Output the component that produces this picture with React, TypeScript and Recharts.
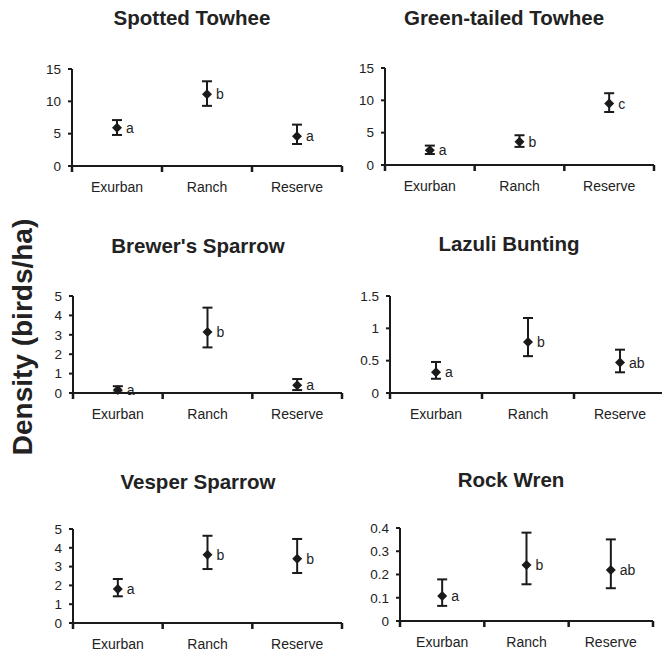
import React from 'react';
import { LineChart, Line, XAxis, YAxis, ErrorBar, LabelList } from 'recharts';

const sites = ['Exurban', 'Ranch', 'Reserve'];

const spottedMean = [5.9, 11.1, 4.6];
const spottedLow = [4.8, 9.3, 3.4];
const spottedHigh = [7.1, 13.1, 6.4];
const spottedLetters = ['a', 'b', 'a'];

const greenMean = [2.3, 3.6, 9.5];
const greenLow = [1.7, 2.8, 8.2];
const greenHigh = [3.0, 4.6, 11.1];
const greenLetters = ['a', 'b', 'c'];

const brewerMean = [0.15, 3.15, 0.4];
const brewerLow = [0.02, 2.35, 0.15];
const brewerHigh = [0.35, 4.4, 0.72];
const brewerLetters = ['a', 'b', 'a'];

const lazuliMean = [0.32, 0.79, 0.47];
const lazuliLow = [0.22, 0.57, 0.32];
const lazuliHigh = [0.48, 1.16, 0.67];
const lazuliLetters = ['a', 'b', 'ab'];

const vesperMean = [1.81, 3.63, 3.42];
const vesperLow = [1.42, 2.87, 2.66];
const vesperHigh = [2.34, 4.64, 4.47];
const vesperLetters = ['a', 'b', 'b'];

const wrenMean = [0.107, 0.241, 0.219];
const wrenLow = [0.065, 0.158, 0.141];
const wrenHigh = [0.179, 0.38, 0.351];
const wrenLetters = ['a', 'b', 'ab'];

const ticks15 = [0, 5, 10, 15];
const ticks5 = [0, 1, 2, 3, 4, 5];
const ticks15small = [0, 0.5, 1, 1.5];
const ticks04 = [0, 0.1, 0.2, 0.3, 0.4];

const build = (mean: number[], low: number[], high: number[], letters: string[]) =>
  sites.map((site, i) => ({
    x: i + 0.5,
    site,
    mean: mean[i],
    err: [mean[i] - low[i], high[i] - mean[i]],
    letter: letters[i],
  }));

const INK = '#1a1a1a';
const FONT = '"Liberation Sans", Arial, Helvetica, sans-serif';

// integer ticks are the category boundaries (marks only), half ticks carry the site names
const SiteTick = (props: any) => {
  const { x, y, payload } = props;
  const v = Number(payload.value);
  if (Math.abs(v - Math.round(v)) < 1e-6) {
    return (
      <g>
        <rect x={x - 1.25} y={y} width={2.5} height={6} fill={INK} />
      </g>
    );
  }
  return (
    <g>
      <text x={x} y={y + 26} textAnchor="middle" fontSize={14} fill="#222" fontFamily={FONT}>
        {sites[Math.floor(v)]}
      </text>
    </g>
  );
};

const Diamond = (props: any) => {
  const { cx, cy } = props;
  if (cx == null || cy == null) return null;
  const r = 5;
  return <path d={`M${cx},${cy - r}L${cx + r},${cy}L${cx},${cy + r}L${cx - r},${cy}Z`} fill={INK} />;
};

const Letter = (props: any) => {
  const { x, y, value } = props;
  return (
    <text x={x + 9} y={y + 5} fontSize={14} fill="#222" fontFamily={FONT}>
      {value}
    </text>
  );
};

const ML = 50, MT = 12, MR = 4, MB = 34;

function Panel({ title, data, yTicks, box, titleX, titleY }: any) {
  const yMax = yTicks[yTicks.length - 1];
  return (
    <>
      <div
        style={{
          position: 'absolute', left: titleX, top: titleY, transform: 'translate(-50%, -50%)',
          fontSize: 20.5, fontWeight: 'bold', color: '#222', whiteSpace: 'nowrap',
        }}
      >
        {title}
      </div>
      <div style={{ position: 'absolute', left: box.l - ML, top: box.t - MT }}>
        <LineChart
          width={box.r - box.l + ML + MR}
          height={box.b - box.t + MT + MB}
          data={data}
          margin={{ top: MT, right: MR, left: 0, bottom: 0 }}
        >
          <XAxis
            type="number"
            dataKey="x"
            domain={[0, 3]}
            ticks={[0, 0.5, 1, 1.5, 2, 2.5, 3]}
            interval={0}
            height={MB}
            tickLine={false}
            tickSize={0}
            tickMargin={0}
            tick={<SiteTick />}
            axisLine={{ stroke: INK, strokeWidth: 2 }}
          />
          <YAxis
            type="number"
            domain={[0, yMax]}
            ticks={yTicks}
            interval={0}
            width={ML}
            tickSize={4}
            tickMargin={7}
            axisLine={{ stroke: INK, strokeWidth: 2 }}
            tickLine={{ stroke: INK, strokeWidth: 2 }}
            tick={{ fill: '#222', fontSize: 13.5, fontFamily: FONT }}
          />
          <Line
            dataKey="mean"
            stroke="none"
            isAnimationActive={false}
            dot={<Diamond />}
            activeDot={false}
          >
            <ErrorBar dataKey="err" direction="y" width={5} stroke={INK} strokeWidth={2} />
            <LabelList dataKey="letter" content={<Letter />} />
          </Line>
        </LineChart>
      </div>
    </>
  );
}

export default function App() {
  return (
    <div
      style={{
        position: 'absolute', left: 0, top: 0, width: 662, height: 652, overflow: 'hidden',
        background: '#fff', fontFamily: FONT,
      }}
    >
      <div
        style={{
          position: 'absolute', left: 23, top: 337, transform: 'translate(-50%, -50%) rotate(-90deg)',
          fontSize: 28, fontWeight: 'bold', color: '#222', whiteSpace: 'nowrap',
        }}
      >
        Density (birds/ha)
      </div>
      <Panel
        title="Spotted Towhee"
        data={build(spottedMean, spottedLow, spottedHigh, spottedLetters)}
        yTicks={ticks15}
        box={{ l: 72, t: 69, r: 342, b: 166 }}
        titleX={192}
        titleY={18}
      />
      <Panel
        title="Green-tailed Towhee"
        data={build(greenMean, greenLow, greenHigh, greenLetters)}
        yTicks={ticks15}
        box={{ l: 385, t: 68, r: 654, b: 165 }}
        titleX={504}
        titleY={18}
      />
      <Panel
        title="Brewer's Sparrow"
        data={build(brewerMean, brewerLow, brewerHigh, brewerLetters)}
        yTicks={ticks5}
        box={{ l: 73, t: 296, r: 342, b: 393 }}
        titleX={198}
        titleY={246}
      />
      <Panel
        title="Lazuli Bunting"
        data={build(lazuliMean, lazuliLow, lazuliHigh, lazuliLetters)}
        yTicks={ticks15small}
        box={{ l: 390, t: 296, r: 666, b: 393 }}
        titleX={509}
        titleY={244}
      />
      <Panel
        title="Vesper Sparrow"
        data={build(vesperMean, vesperLow, vesperHigh, vesperLetters)}
        yTicks={ticks5}
        box={{ l: 73, t: 529, r: 342, b: 623 }}
        titleX={198}
        titleY={482}
      />
      <Panel
        title="Rock Wren"
        data={build(wrenMean, wrenLow, wrenHigh, wrenLetters)}
        yTicks={ticks04}
        box={{ l: 400, t: 528, r: 653, b: 621 }}
        titleX={511}
        titleY={480}
      />
    </div>
  );
}
